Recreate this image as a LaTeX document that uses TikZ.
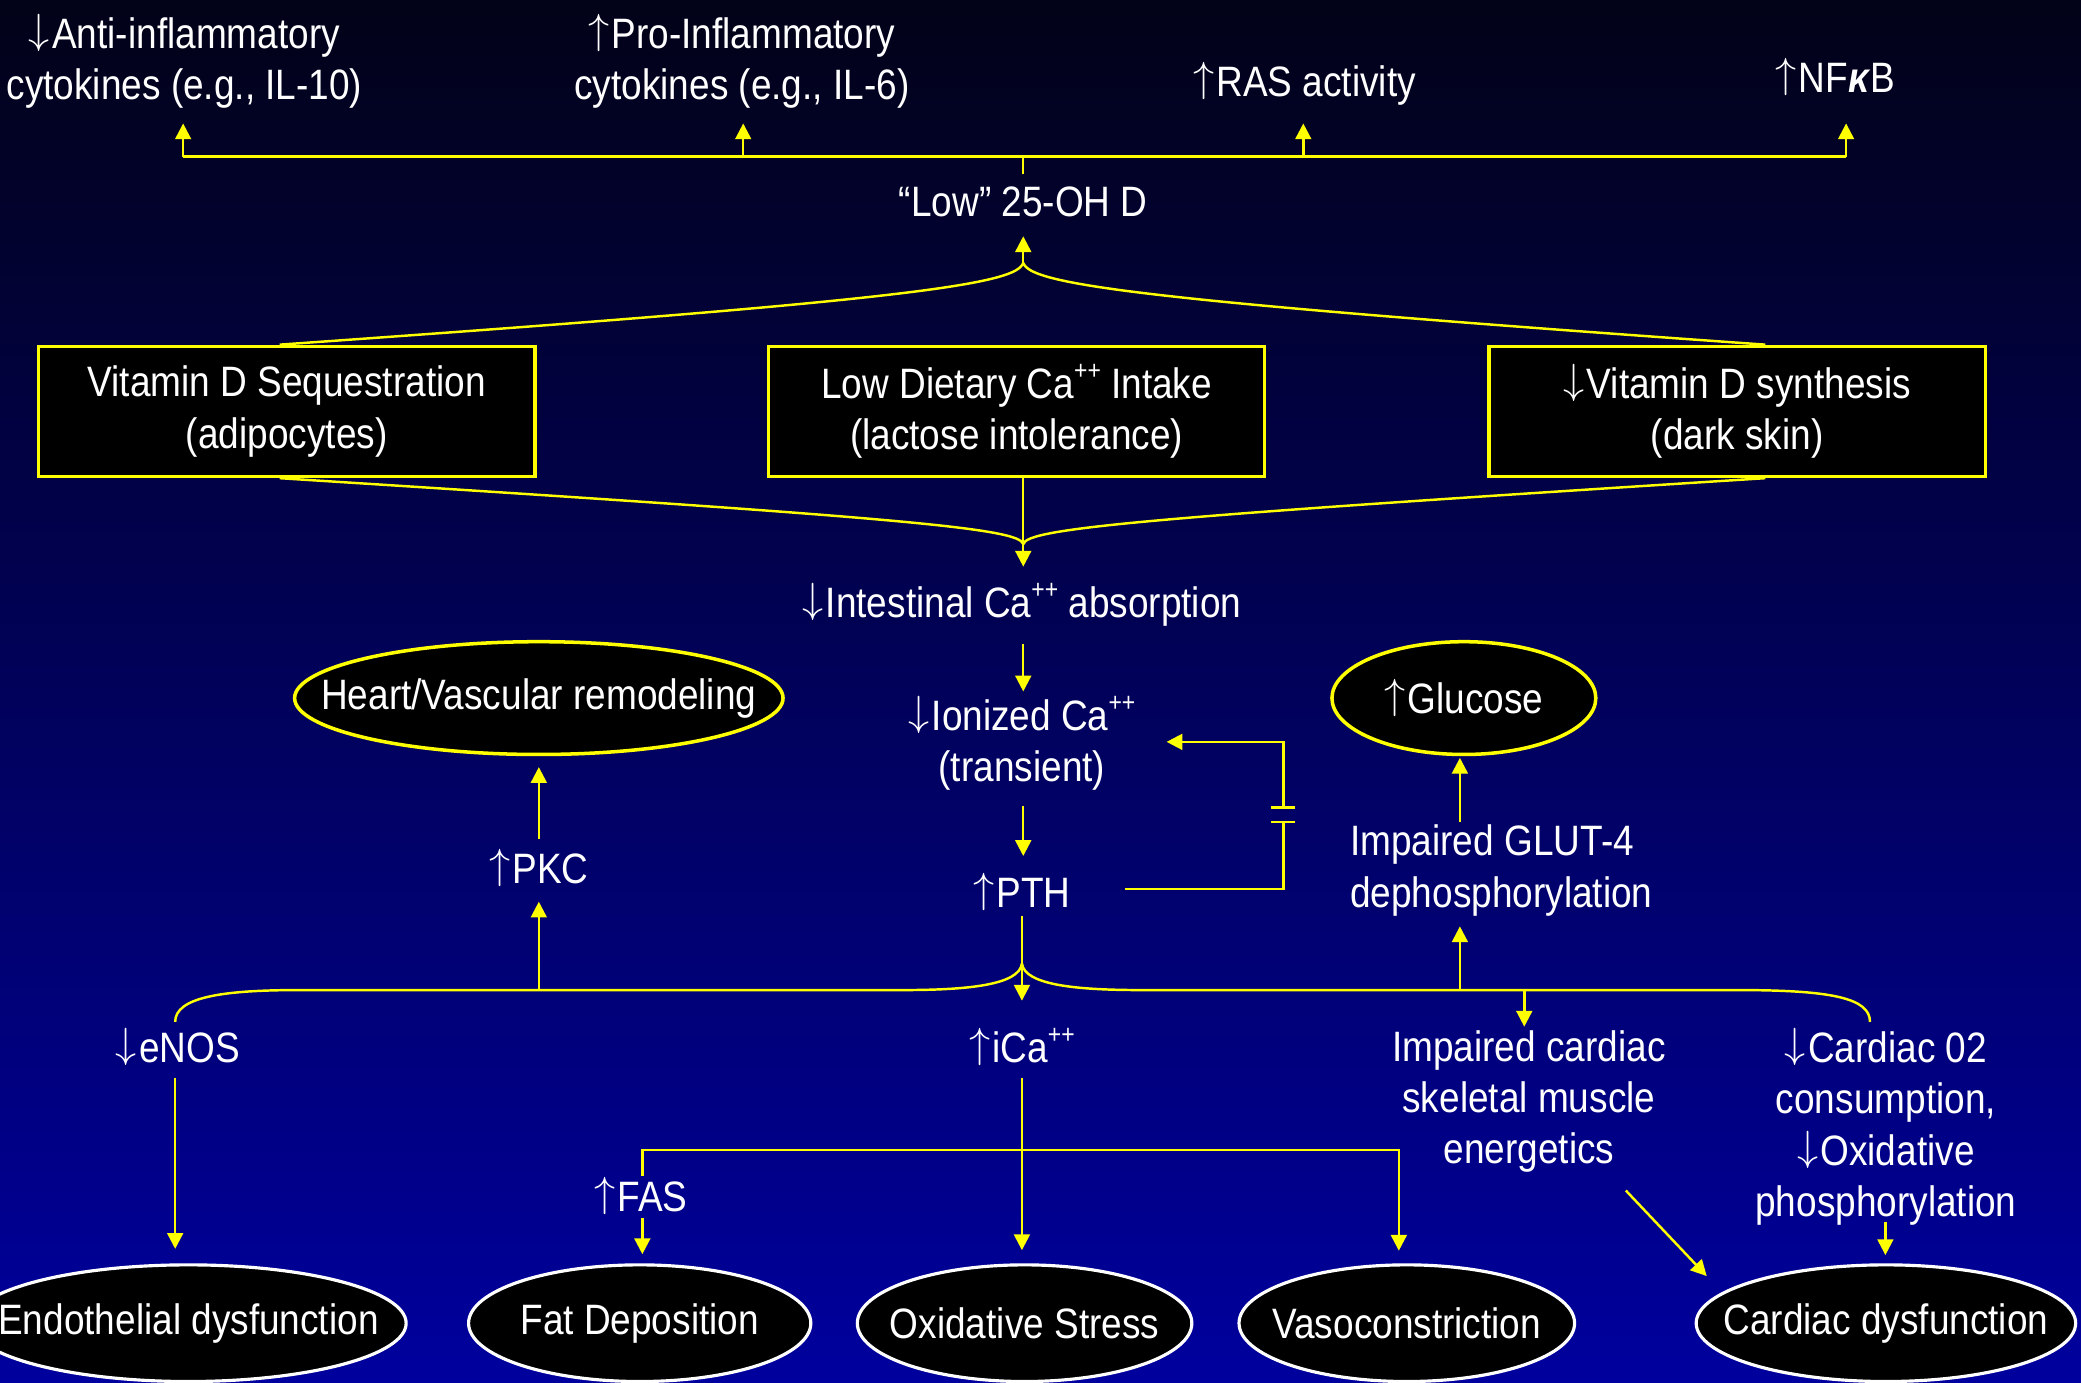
\documentclass[tikz,border=0pt]{standalone}
\usepackage{fontspec}
\setmainfont{Liberation Sans}[FakeStretch=0.87]
\usetikzlibrary{arrows.meta,shapes.geometric}

\definecolor{bgtop}{RGB}{2,2,24}
\definecolor{bgmid}{RGB}{0,0,100}
\definecolor{bgbot}{RGB}{0,0,158}
\definecolor{vdyellow}{RGB}{255,255,0}

\newcommand\upar{\raisebox{0.12em}{$\uparrow$}\hspace{0.05em}}
\newcommand\dnar{\raisebox{0.12em}{$\downarrow$}\hspace{0.05em}}
\newcommand\ions{\raisebox{0.45em}{\fontsize{7.5}{7.5}\selectfont ++}}

\tikzset{
  every node/.style={font=\fontsize{12.1}{14.6}\selectfont},
  txt/.style={text=white, align=center},
  srcbox/.style={draw=vdyellow, fill=black, line width=1pt, text=white, align=center,
    minimum width=141.2pt, minimum height=37pt},
  effect/.style={ellipse, draw=vdyellow, fill=black, line width=1pt, inner sep=0pt,
    minimum height=32.1pt, label={[txt]center:#1}},
  outcome/.style={ellipse, draw=white, fill=black, line width=0.9pt, inner sep=0pt,
    minimum height=33.2pt, label={[txt]center:#1}},
  link/.style={draw=vdyellow, line width=0.7pt},
  arr/.style={link, -{Triangle[length=4.5pt,width=4.5pt]}}
}

\begin{document}
        \begin{tikzpicture}[x=0.013272cm, y=-0.013272cm]
            \useasboundingbox (0,0) rectangle (1568,1042);
            \shade[top color=bgtop, middle color=bgmid, bottom color=bgbot] (0,0) rectangle (1568,1042);

            \node[txt] (antiinf) at (139,46) {\dnar Anti-inflammatory\\cytokines (e.g., IL-10)};
            \node[txt] (proinf) at (559,46) {\upar Pro-Inflammatory\\cytokines (e.g., IL-6)};
            \node[txt] (ras) at (983,63) {\upar RAS activity};
            \node[txt] (nfkb) at (1383,58) {\upar NF\textbf{\textit{κ}}B};
            \node[txt] (lowd) at (771,152) {“Low” 25-OH D};

            \node[srcbox] (vdseq) at (216,310) {Vitamin D Sequestration\\(adipocytes)};
            \node[srcbox] (diet) at (766,310) {Low Dietary Ca\ions{} Intake\\(lactose intolerance)};
            \node[srcbox] (vdsyn) at (1309,310) {\dnar Vitamin D synthesis\\(dark skin)};

            \node[txt] (absorb) at (770,456) {\dnar Intestinal Ca\ions{} absorption};
            \node[txt] (ionca) at (770,560) {\dnar Ionized Ca\ions\\(transient)};
            \node[txt] (pth) at (770,672) {\upar PTH};

            \node[effect={Heart/Vascular remodeling}, minimum width=139pt] (remod) at (406,526) {};
            \node[txt] (pkc) at (406,654) {\upar PKC};
            \node[effect={\upar Glucose}, minimum width=75.1pt] (gluc) at (1103,526) {};
            \node[txt, anchor=west, align=left] (glut) at (1008,656) {Impaired GLUT-4\\dephosphorylation};

            \node[txt] (enos) at (134,789) {\dnar eNOS};
            \node[txt] (ica) at (770,789) {\upar iCa\ions};
            \node[txt] (energ) at (1152,830) {Impaired cardiac\\skeletal muscle\\energetics};
            \node[txt] (cardo2) at (1421,849) {\dnar Cardiac 02\\consumption,\\\dnar Oxidative\\phosphorylation};
            \node[txt] (fas) at (483,901) {\upar FAS};

            \node[outcome={Endothelial dysfunction}, minimum width=123.9pt] (endo) at (142,997) {};
            \node[outcome={Fat Deposition}, minimum width=97.4pt] (fat) at (482,997) {};
            \node[outcome={Oxidative Stress}, minimum width=95.2pt] (oxst) at (772,997) {};
            \node[outcome={Vasoconstriction}, minimum width=95.5pt] (vaso) at (1060,997) {};
            \node[outcome={Cardiac dysfunction}, minimum width=108pt] (cardys) at (1421,997) {};

            \coordinate (bar) at (771,118);
            \coordinate (bar1) at (138,118);
            \coordinate (bar4) at (1391,118);
            \coordinate (antiinf in) at (138,93);
            \coordinate (proinf in) at (560,93);
            \coordinate (ras in) at (982,93);
            \coordinate (nfkb in) at (1391,93);
            \draw[link] (bar1) -- (bar4);
            \draw[link] (lowd.north) -- (bar);
            \draw[arr] (bar1) -- (antiinf in);
            \draw[arr] (proinf in |- bar) -- (proinf in);
            \draw[arr] (ras in |- bar) -- (ras in);
            \draw[arr] (bar4) -- (nfkb in);

            \coordinate (fork) at (771,198);
            \coordinate (lowd in) at (771,178);
            \draw[arr] (fork) -- (lowd in);
            \draw[link] (fork) .. controls (766,214) and (690,226) .. ([xshift=-2pt]vdseq.north);
            \draw[link] (fork) .. controls (776,214) and (852,226) .. ([xshift=8pt]vdsyn.north);

            \coordinate (merge) at (771,410);
            \coordinate (absorb in) at (771,427);
            \draw[link] ([xshift=-2pt]vdseq.south) .. controls (680,390) and (768,398) .. (merge);
            \draw[link] ([xshift=8pt]vdsyn.south) .. controls (862,390) and (774,398) .. (merge);
            \draw[link] (merge |- diet.south) -- (merge);
            \draw[arr] (merge) -- (absorb in);

            \coordinate (absorb out) at (771,485);
            \coordinate (ionca in) at (771,521);
            \coordinate (ionca out) at (771,607);
            \coordinate (pth in) at (771,645);
            \draw[arr] (absorb out) -- (ionca in);
            \draw[arr] (ionca out) -- (pth in);

            \coordinate (fbstart) at (848,670);
            \coordinate (gaplo) at (967,619.4);
            \coordinate (gaphi) at (967,608.6);
            \coordinate (fbend) at (879,559);
            \draw[link] (fbstart) -| (gaplo);
            \draw[link] ([xshift=-3.4pt]gaplo) -- ([xshift=3.4pt]gaplo);
            \draw[link] ([xshift=-3.4pt]gaphi) -- ([xshift=3.4pt]gaphi);
            \draw[arr] (gaphi) |- (fbend);

            \coordinate (pth out) at (770,690);
            \coordinate (split) at (770,726);
            \coordinate (ica in) at (770,754);
            \coordinate (enos top) at (132,770);
            \coordinate (cardo2 top) at (1409,770);
            \draw[link] (pth out) -- (split);
            \draw[arr] (split) -- (ica in);
            \draw[link] (split) .. controls (768,742) and (730,746) .. (680,746) -- (225,746)
                .. controls (165,746) and (132,752) .. (enos top);
            \draw[link] (split) .. controls (772,742) and (810,746) .. (860,746) -- (1309,746)
                .. controls (1380,746) and (1409,752) .. (cardo2 top);

            \coordinate (pkc in) at (406,679.4);
            \coordinate (pkc out) at (406,632);
            \coordinate (remod in) at (406,578);
            \draw[arr] (406,746) -- (pkc in);
            \draw[arr] (pkc out) -- (remod in);

            \coordinate (glut in) at (1100,698);
            \coordinate (glut out) at (1100,619);
            \coordinate (gluc in) at (1100,571);
            \coordinate (energ in) at (1148.5,773.6);
            \draw[arr] (1100,746) -- (glut in);
            \draw[arr] (glut out) -- (gluc in);
            \draw[arr] (1148.5,746) -- (energ in);

            \coordinate (enos out) at (132,812);
            \coordinate (endo in) at (132,941);
            \draw[arr] (enos out) -- (endo in);

            \coordinate (ica out) at (770,812);
            \coordinate (oxst in) at (770,942);
            \coordinate (hbar) at (770,866.5);
            \coordinate (fas top) at (484,886);
            \coordinate (vaso in) at (1054,942.4);
            \draw[arr] (ica out) -- (oxst in);
            \draw[arr] (fas top) |- (hbar) -| (vaso in);

            \coordinate (fas out) at (484,918);
            \coordinate (fat in) at (484,945);
            \draw[arr] (fas out) -- (fat in);

            \coordinate (energ out) at (1225,897);
            \coordinate (cardys in) at (1286,961.5);
            \draw[arr] (energ out) -- (cardys in);

            \coordinate (cardo2 out) at (1420.6,920.5);
            \coordinate (cardys top) at (1420.6,945.7);
            \draw[arr] (cardo2 out) -- (cardys top);
        \end{tikzpicture}
\end{document}
